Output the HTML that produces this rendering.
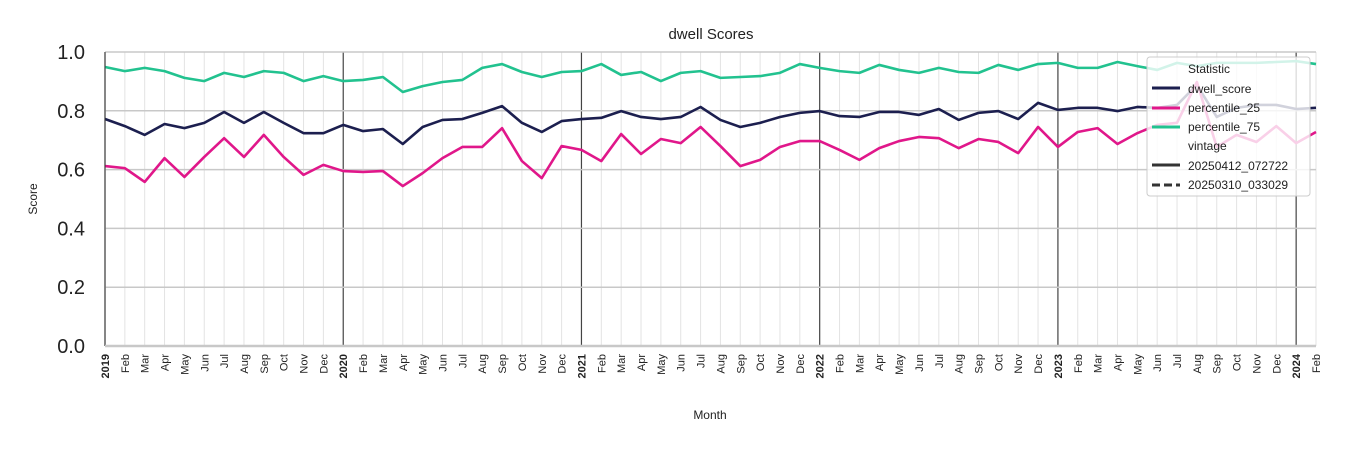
<!DOCTYPE html>
<html><head><meta charset="utf-8"><style>
body{margin:0;background:#fff;}
svg{font-family:"Liberation Sans","DejaVu Sans",sans-serif;display:block}
</style></head><body>
<svg id="chart" width="1350" height="450" viewBox="0 0 1350 450" xmlns="http://www.w3.org/2000/svg">
<g id="grid"></g>
<g id="series"></g>
<g id="axes"></g>
<text x="711" y="39" font-size="15" text-anchor="middle" fill="#222">dwell Scores</text>
<text transform="translate(37,199) rotate(-90)" font-size="12" text-anchor="middle" fill="#222">Score</text>
<text x="710" y="419" font-size="12" text-anchor="middle" fill="#222">Month</text>
<g>
<rect x="1147" y="57" width="163" height="139" rx="3" fill="#fff" fill-opacity="0.8" stroke="#ccc"/>
<text x="1188" y="73" font-size="12" fill="#222">Statistic</text>
<line x1="1152" y1="88" x2="1180" y2="88" stroke="#1c1f4f" stroke-width="3"/>
<text x="1188" y="93" font-size="12" fill="#222">dwell_score</text>
<line x1="1152" y1="108" x2="1180" y2="108" stroke="#e0178a" stroke-width="3"/>
<text x="1188" y="112" font-size="12" fill="#222">percentile_25</text>
<line x1="1152" y1="127" x2="1180" y2="127" stroke="#22c28f" stroke-width="3"/>
<text x="1188" y="131" font-size="12" fill="#222">percentile_75</text>
<text x="1188" y="150" font-size="12" fill="#222">vintage</text>
<line x1="1152" y1="165" x2="1180" y2="165" stroke="#333" stroke-width="3"/>
<text x="1188" y="170" font-size="12" fill="#222">20250412_072722</text>
<line x1="1152" y1="185" x2="1180" y2="185" stroke="#333" stroke-width="3" stroke-dasharray="8,4"/>
<text x="1188" y="189" font-size="12" fill="#222">20250310_033029</text>
</g>
</svg>
<script>
const monthNames=["Jan","Feb","Mar","Apr","May","Jun","Jul","Aug","Sep","Oct","Nov","Dec"];
const years=[2019,2020,2021,2022,2023,2024];
const yTicks=[0.0,0.2,0.4,0.6,0.8,1.0];
const dwellScore=[.772,.748,.718,.755,.741,.759,.796,.759,.796,.759,.724,.724,
.752,.731,.738,.687,.745,.769,.772,.793,.816,.759,.728,.765,
.772,.776,.799,.779,.772,.779,.813,.769,.745,.759,.779,.793,
.799,.782,.779,.796,.796,.786,.806,.769,.793,.799,.772,.827,
.803,.810,.810,.799,.813,.810,.820,.888,.779,.810,.820,.820,
.806,.810];
const percentile25=[.612,.605,.558,.639,.575,.643,.707,.643,.718,.643,.582,.616,
.595,.592,.595,.544,.588,.639,.677,.677,.741,.629,.571,.680,
.667,.629,.721,.653,.704,.690,.745,.680,.612,.633,.677,.697,
.697,.667,.633,.673,.697,.711,.707,.673,.704,.694,.656,.745,
.677,.728,.741,.687,.724,.752,.759,.898,.677,.718,.694,.748,
.690,.728];
const percentile75=[.949,.935,.946,.935,.912,.901,.929,.915,.935,.929,.901,.918,
.901,.905,.915,.864,.884,.898,.905,.946,.959,.932,.915,.932,
.935,.959,.922,.932,.901,.929,.935,.912,.915,.918,.929,.959,
.946,.935,.929,.956,.939,.929,.946,.932,.929,.956,.939,.959,
.963,.946,.946,.966,.952,.939,.963,.952,.963,.963,.963,.966,
.969,.959];
const NS="http://www.w3.org/2000/svg";
const X0=105,X1=1316,Y0=346,Y1=52;
const n=dwellScore.length;
function xs(i){return X0+(X1-X0)*i/(n-1);}
function ys(v){return Y0-(Y0-Y1)*v;}
function mk(tag,attrs,parent){const e=document.createElementNS(NS,tag);for(const k in attrs)e.setAttribute(k,attrs[k]);parent.appendChild(e);return e;}
const grid=document.getElementById('grid'),series=document.getElementById('series'),axes=document.getElementById('axes');
for(let i=0;i<n;i++){
  const isYear=i%12===0;
  const l=mk('line',{x1:xs(i),x2:xs(i),y1:Y1,y2:Y0,stroke:isYear?'#444':'#e3e3e3','stroke-width':isYear?1.2:1},grid);
  
  
  const lab=isYear?String(years[i/12]):monthNames[i%12];
  const t=mk('text',{transform:`translate(${xs(i)+4},354) rotate(-90)`,'font-size':11,'text-anchor':'end',fill:'#222','font-weight':isYear?'bold':'normal'},axes);
  t.textContent=lab;
  
  
}
yTicks.forEach(v=>{
  const l=mk('line',{x1:X0,x2:X1,y1:ys(v),y2:ys(v),stroke:'#c8c8c8','stroke-width':1.5},grid);
  
  
  const t=mk('text',{x:85,y:ys(v)+7,'font-size':20,'text-anchor':'end',fill:'#222'},axes);
  t.textContent=v.toFixed(1);
  
  
});
const la=mk('line',{x1:X0,x2:X0,y1:Y1,y2:Y0,stroke:'#333','stroke-width':1},axes);


const ba=mk('line',{x1:X0,x2:X1,y1:Y0,y2:Y0,stroke:'#c8c8c8','stroke-width':2.5},axes);


function line(arr,color,name){
  const p=mk('polyline',{points:arr.map((v,i)=>xs(i)+','+ys(v)).join(' '),fill:'none',stroke:color,'stroke-width':2.6,'stroke-linejoin':'round'},series);
  
  
}
line(percentile75,'#22c28f','percentile-75-line');
line(dwellScore,'#1c1f4f','dwell-score-line');
line(percentile25,'#e0178a','percentile-25-line');
</script>
</body></html>
